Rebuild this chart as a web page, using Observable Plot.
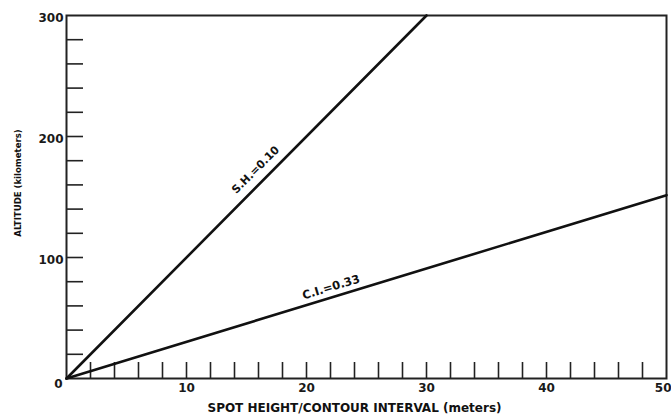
<!DOCTYPE html>
<html>
<head>
<meta charset="utf-8">
<script src="https://cdn.jsdelivr.net/npm/d3@7"></script>
<script src="https://cdn.jsdelivr.net/npm/@observablehq/plot@0.6"></script>
<style>
  html, body { margin: 0; padding: 0; background: #fff; }
  #chart svg { display: block; }
</style>
</head>
<body>
<div id="chart"></div>
<script>
// Series: line endpoints (altitude in km vs spot height / contour interval in m)
const shX = [0, 30];
const shY = [0, 300];
const ciX = [0, 50];
const ciY = [0, 151.5];
const seriesLabels = ["S.H.=0.10", "C.I.=0.33"];
// label anchor points on each line
const labelX = [16.5, 22.3];
const labelY = [165, 67.6];

// tick values
const xLabelTicks = [10, 20, 30, 40];
const xLastTick = [50];
const yLabelTicks = [100, 200, 300];
const yZeroTick = [0];
const xMinorTicks = d3.range(2, 50, 2);
const yMinorTicks = d3.range(20, 300, 20);

const W = 671, H = 419;
const mL = 66, mR = 5, mT = 15, mB = 41;
const plotW = W - mL - mR, plotH = H - mT - mB;

const sh = shX.map((x, i) => ({x, y: shY[i]}));
const ci = ciX.map((x, i) => ({x, y: ciY[i]}));
const labels = seriesLabels.map((t, i) => ({t, x: labelX[i], y: labelY[i]}));

const font = "'DejaVu Sans', 'Open Sans', sans-serif";

const chart = Plot.plot({
  width: W, height: H,
  marginLeft: mL, marginRight: mR, marginTop: mT, marginBottom: mB,
  style: {fontFamily: font, fontSize: "12px", fontWeight: "bold", color: "#1a1a1a", background: "#fff"},
  x: {domain: [0, 50], axis: null},
  y: {domain: [0, 300], axis: null},
  marks: [
    Plot.tickX(xMinorTicks, {x: d => d, insetTop: plotH - 16, stroke: "#222", strokeWidth: 1.6}),
    Plot.tickY(yMinorTicks, {y: d => d, insetRight: plotW - 17, stroke: "#222", strokeWidth: 1.6}),
    Plot.axisX({ticks: xLabelTicks, tickSize: 0, tickPadding: 5, label: null, fontSize: 12, fontWeight: "bold"}),
    Plot.axisX({ticks: xLastTick, tickSize: 0, tickPadding: 5, label: null, fontSize: 12, fontWeight: "bold", textAnchor: "end", dx: 5}),
    Plot.axisY({ticks: yLabelTicks, tickSize: 0, tickPadding: 3, label: null, fontSize: 12, fontWeight: "bold", dy: 3}),
    Plot.axisY({ticks: yZeroTick, tickSize: 0, tickPadding: 4, label: null, fontSize: 12, fontWeight: "bold", dy: 6}),
    Plot.frame({stroke: "#222", strokeWidth: 2}),
    Plot.line(sh, {x: "x", y: "y", stroke: "#111", strokeWidth: 2.6}),
    Plot.line(ci, {x: "x", y: "y", stroke: "#111", strokeWidth: 2.6}),
    Plot.text([labels[0]], {x: "x", y: "y", text: "t", rotate: -45, dx: -9, dy: -9, fontSize: 11, fontWeight: "bold", fill: "#111"}),
    Plot.text([labels[1]], {x: "x", y: "y", text: "t", rotate: -17, dx: -3, dy: -9.5, fontSize: 11.5, fontWeight: "bold", fill: "#111"}),
    Plot.text(["SPOT HEIGHT/CONTOUR INTERVAL (meters)"], {text: d => d, frameAnchor: "bottom", dy: 33, dx: -12, fontSize: 12, fontWeight: "bold", fill: "#111"}),
    Plot.text(["ALTITUDE (kilometers)"], {text: d => d, frameAnchor: "left", textAnchor: "middle", lineAnchor: "middle", rotate: -90, dx: -49, dy: -14, fontSize: 9.5, fontWeight: "bold", fontFamily: "'DejaVu Sans Condensed', 'DejaVu Sans', sans-serif", fill: "#111"})
  ]
});
document.getElementById("chart").appendChild(chart);
</script>
</body>
</html>
